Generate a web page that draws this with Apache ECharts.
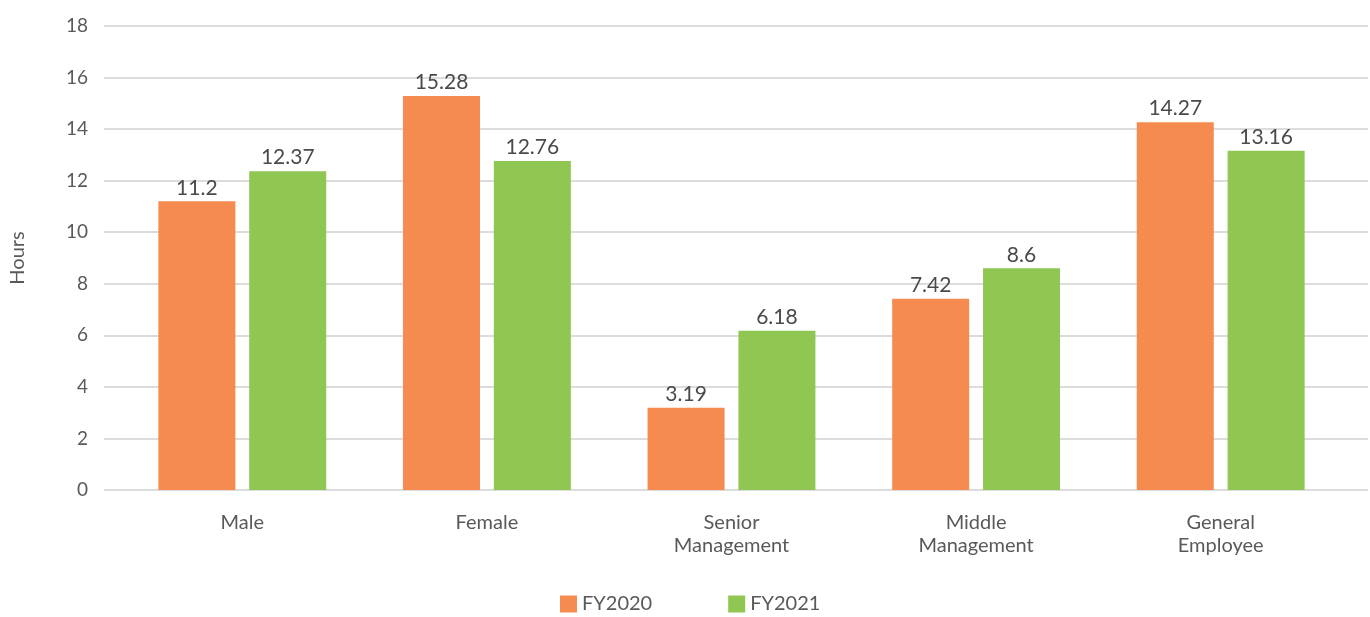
<!DOCTYPE html>
<html>
<head>
<meta charset="utf-8">
<script src="https://cdn.jsdelivr.net/npm/echarts@6/dist/echarts.min.js"></script>
<style>
  html, body { margin: 0; padding: 0; background: #fff; }
  #chart { width: 1370px; height: 617px; }
</style>
</head>
<body>
<div id="chart"></div>
<script>
// Training hours per employee group, two fiscal years
const categories = ['Male', 'Female', 'Senior\nManagement', 'Middle\nManagement', 'General\nEmployee'];
const fy2020 = [11.2, 15.28, 3.19, 7.42, 14.27];
const fy2021 = [12.37, 12.76, 6.18, 8.6, 13.16];
const seriesNames = ['FY2020', 'FY2021'];
const yMin = 0, yMax = 18, yStep = 2;

const FONT = 'Lato, "Open Sans", sans-serif';
const TEXT = '#595959';

const chart = echarts.init(document.getElementById('chart'));
chart.setOption({
  animation: false,
  textStyle: { fontFamily: FONT },
  legend: {
    data: seriesNames,
    bottom: -2,
    left: 555,
    itemWidth: 17,
    itemHeight: 17,
    itemGap: 76,
    icon: 'rect',
    textStyle: { color: TEXT, fontSize: 20, fontFamily: FONT }
  },
  grid: [
    // full-width grid carrying the value axis and gridlines
    { left: 100, right: 2, top: 26, bottom: 127 },
    // inner grid for the category bands
    { left: 120, right: 27, top: 26, bottom: 127 }
  ],
  xAxis: [
    { gridIndex: 0, type: 'value', show: false, min: 0, max: 1 },
    {
      gridIndex: 1,
      type: 'category',
      data: categories,
      axisLine: { show: false },
      axisTick: { show: false },
      axisLabel: {
        color: TEXT, fontSize: 20, fontFamily: FONT,
        lineHeight: 23, margin: 21
      }
    }
  ],
  yAxis: [
    {
      gridIndex: 0,
      type: 'value',
      min: yMin, max: yMax, interval: yStep,
      name: 'Hours',
      nameLocation: 'middle',
      nameGap: 76,
      nameRotate: 90,
      nameTextStyle: { color: TEXT, fontSize: 20, fontFamily: FONT },
      axisLine: { show: false },
      axisTick: { show: false },
      axisLabel: { color: TEXT, fontSize: 19, fontFamily: FONT, margin: 16 },
      splitLine: { lineStyle: { color: '#d0d0d0', width: 1.5 } }
    },
    {
      gridIndex: 1,
      type: 'value',
      min: yMin, max: yMax, interval: yStep,
      show: false,
      splitLine: { show: false }
    }
  ],
  series: [
    {
      name: seriesNames[0],
      type: 'bar',
      xAxisIndex: 1, yAxisIndex: 1,
      data: fy2020,
      barWidth: 77,
      barGap: '18%',
      itemStyle: { color: '#F68B4F' },
      label: { show: true, position: 'top', color: '#4a4a4a', fontSize: 21, fontFamily: FONT, distance: 3 }
    },
    {
      name: seriesNames[1],
      type: 'bar',
      xAxisIndex: 1, yAxisIndex: 1,
      data: fy2021,
      barWidth: 77,
      barGap: '18%',
      itemStyle: { color: '#8FC752' },
      label: { show: true, position: 'top', color: '#4a4a4a', fontSize: 21, fontFamily: FONT, distance: 3 }
    }
  ]
});
</script>
</body>
</html>
